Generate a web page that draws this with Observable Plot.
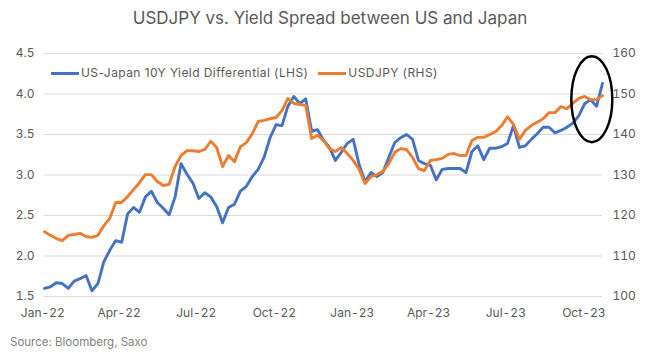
<!DOCTYPE html>
<html>
<head>
<meta charset="utf-8">
<script src="https://cdn.jsdelivr.net/npm/d3@7"></script>
<script src="https://cdn.jsdelivr.net/npm/@observablehq/plot@0.6"></script>
<style>
  html, body { margin: 0; padding: 0; background: #fff; }
  #wrap { position: relative; width: 648px; height: 358px; font-family: Inter, "Noto Sans", sans-serif; overflow: hidden; }
  #title { position: absolute; top: 6px; left: 0; width: 660px; text-align: center; font-size: 17px; color: #595959; line-height: 24px; }
  #chart { position: absolute; top: 36px; left: 0; }
  #legend { position: absolute; top: 65px; left: 51px; display: flex; align-items: center; font-size: 12px; letter-spacing: 0.42px; color: #595959; line-height: 16px; white-space: nowrap; }
  .sw { display: inline-block; width: 28px; height: 3px; margin-right: 2px; }
  #source { position: absolute; left: 10px; top: 334px; font-size: 11.5px; color: #7f7f7f; line-height: 16px; }
</style>
</head>
<body>
<div id="wrap">
  <div id="title">USDJPY vs. Yield Spread between US and Japan</div>
  <div id="chart"></div>
  <div id="legend">
    <span class="sw" style="background:#4472C4"></span><span>US-Japan 10Y Yield Differential (LHS)</span>
    <span class="sw" style="background:#ED7D31; margin-left:10px"></span><span>USDJPY (RHS)</span>
  </div>
  <div id="source">Source: Bloomberg, Saxo</div>
</div>
<script>
// Weekly observations starting the week of 3 Jan 2022
const startDate = "2022-01-03";

// US-Japan 10Y yield differential (LHS, %)
const spread = [
  1.60, 1.62, 1.67, 1.66, 1.60, 1.69, 1.72, 1.76, 1.57, 1.66,
  1.93, 2.07, 2.19, 2.17, 2.52, 2.60, 2.54, 2.73, 2.80, 2.66,
  2.59, 2.51, 2.73, 3.14, 3.01, 2.90, 2.71, 2.78, 2.73, 2.61,
  2.41, 2.60, 2.64, 2.80, 2.86, 2.98, 3.07, 3.22, 3.46, 3.62,
  3.61, 3.85, 3.97, 3.88, 3.94, 3.54, 3.56, 3.43, 3.34, 3.18,
  3.28, 3.39, 3.44, 3.13, 2.92, 3.03, 2.98, 3.03, 3.22, 3.40,
  3.46, 3.50, 3.44, 3.18, 3.14, 3.12, 2.94, 3.07, 3.08, 3.08,
  3.08, 3.03, 3.29, 3.36, 3.19, 3.33, 3.33, 3.35, 3.39, 3.61,
  3.34, 3.36, 3.44, 3.51, 3.59, 3.59, 3.52, 3.55, 3.59, 3.64,
  3.73, 3.88, 3.93, 3.85, 4.13
];

// USDJPY (RHS)
const usdjpy = [
  116.0, 115.1, 114.3, 113.8, 115.1, 115.3, 115.6, 114.8, 114.6, 115.1,
  117.5, 119.3, 123.2, 123.2, 124.7, 126.4, 128.1, 130.1, 130.1, 128.4,
  127.4, 127.7, 132.1, 134.8, 136.0, 136.0, 135.8, 136.3, 138.3, 136.8,
  132.1, 134.8, 133.3, 137.0, 138.0, 140.2, 143.2, 143.5, 143.9, 144.2,
  145.9, 148.9, 147.7, 147.4, 147.2, 139.0, 139.8, 138.5, 136.5, 135.8,
  136.8, 135.3, 133.6, 131.4, 127.9, 129.6, 130.1, 130.9, 132.8, 135.6,
  136.5, 136.3, 134.3, 131.6, 131.1, 133.6, 133.8, 134.1, 135.1, 135.3,
  134.8, 134.8, 138.5, 139.3, 139.3, 140.0, 140.7, 142.2, 144.4, 142.5,
  138.8, 141.0, 142.2, 143.0, 143.9, 145.4, 145.4, 146.9, 146.4, 147.7,
  148.9, 149.4, 148.6, 148.6, 149.6
];

// Axis ticks
const leftTicks = [1.5, 2.0, 2.5, 3.0, 3.5, 4.0, 4.5];
const rightTicks = [100, 110, 120, 130, 140, 150, 160];
const xTickDates = ["2022-01-01", "2022-04-01", "2022-07-01", "2022-10-01",
                    "2023-01-01", "2023-04-01", "2023-07-01", "2023-10-01"];

// Annotation ellipse (data-space centre)
const highlightDate = "2023-10-11";
const highlightValue = 3.93;

// secondary axis mapping: 100..160 -> 1.5..4.5
const toLeft = v => 1.5 + (v - 100) / 20;
const fromLeft = v => 100 + (v - 1.5) * 20;

const start = new Date(startDate + "T00:00:00Z");
const rows = spread.map((s, i) => ({
  date: d3.utcDay.offset(start, 7 * i),
  spread: s,
  jpy: toLeft(usdjpy[i])
}));

const plot = Plot.plot({
  width: 648,
  height: 292,
  marginTop: 17,
  marginBottom: 32,
  marginLeft: 44,
  marginRight: 46,
  x: { type: "utc", domain: [rows[0].date, rows[rows.length - 1].date] },
  y: { domain: [1.5, 4.5] },
  style: { fontFamily: "Inter, 'Noto Sans', sans-serif", fontSize: "12px", color: "#595959", background: "white", overflow: "visible" },
  marks: [
    Plot.ruleY(leftTicks, { stroke: "#d9d9d9", strokeWidth: 1 }),
    Plot.axisY({ ticks: leftTicks, tickSize: 0, tickPadding: 10, tickFormat: d3.format(".1f"), label: null }),
    Plot.axisY({ anchor: "right", ticks: rightTicks.map(toLeft), tickSize: 0, tickPadding: 10,
                 tickFormat: d => String(Math.round(fromLeft(d))), label: null }),
    Plot.axisX({ ticks: xTickDates.map(d => new Date(d + "T00:00:00Z")), tickSize: 0, tickPadding: 12,
                 tickFormat: d3.utcFormat("%b-%y"), label: null }),
    Plot.line(rows, { x: "date", y: "spread", stroke: "#4472C4", strokeWidth: 2.9, strokeLinejoin: "round" }),
    Plot.line(rows, { x: "date", y: "jpy", stroke: "#ED7D31", strokeWidth: 2.9, strokeLinejoin: "round" })
  ]
});

const xs = plot.scale("x"), ys = plot.scale("y");
d3.select(plot).append("ellipse")
  .attr("cx", xs.apply(new Date(highlightDate + "T00:00:00Z")))
  .attr("cy", ys.apply(highlightValue))
  .attr("rx", 20.5)
  .attr("ry", 43)
  .attr("fill", "none")
  .attr("stroke", "#000")
  .attr("stroke-width", 2.5);

document.getElementById("chart").appendChild(plot);
</script>
</body>
</html>
